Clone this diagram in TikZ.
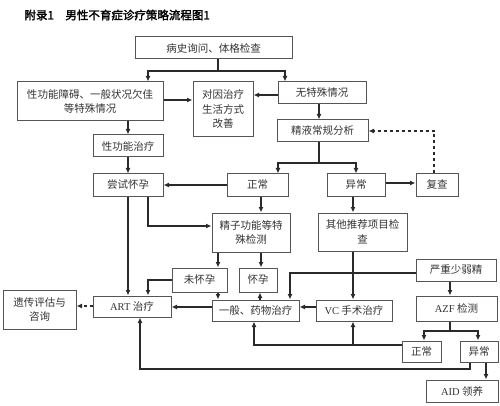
\documentclass[tikz,border=0pt]{standalone}
\usepackage{fontspec}
\setmainfont{Noto Sans CJK SC}[AutoFakeBold=2]
\newfontfamily\latin{Liberation Serif}
\usepackage{xcolor}
\usepackage{tikz}
\usetikzlibrary{positioning,calc,arrows.meta}
\definecolor{edgegray}{HTML}{555555}
\definecolor{linegray}{HTML}{2A2A2A}
\definecolor{txtgray}{HTML}{333333}
\tikzstyle{box}= [rectangle, draw=edgegray, line width=1pt, inner sep=0pt, align=center, text=txtgray, font=\fontsize{10.5}{14.5}\selectfont]
\tikzstyle{arr}= [-{Latex[length=5.5pt,width=5pt]}, draw=linegray, line width=1.1pt]

\begin{document}
\begin{tikzpicture}[x=1pt,y=-1pt]
				\useasboundingbox (0,0) rectangle (500,406);
				\node[anchor=west, font=\fontsize{11.5}{13}\selectfont\bfseries] (title) at (21,15) {附录1\hspace{1em}男性不育症诊疗策略流程图1};

				\node[box, minimum width=157, minimum height=22] (hist) at (213.5,48) {病史询问、体格检查};
				\node[box, minimum width=146, minimum height=39] (sexd) at (90,101.5) {性功能障碍、一般状况欠佳\\等特殊情况};
				\node[box, minimum width=60, minimum height=55] (cause) at (223,109.5) {对因治疗\\生活方式\\改善};
				\node[box, minimum width=88, minimum height=22] (nosp) at (322,93) {无特殊情况};
				\node[box, minimum width=91, minimum height=22] (semen) at (322.5,131) {精液常规分析};
				\node[box, minimum width=70, minimum height=22] (sext) at (128,146) {性功能治疗};
				\node[box, minimum width=70, minimum height=22] (tryp) at (128,185) {尝试怀孕};
				\node[box, minimum width=61, minimum height=22] (norm1) at (257.5,185) {正常};
				\node[box, minimum width=58, minimum height=22] (abn1) at (356,185) {异常};
				\node[box, minimum width=42, minimum height=22] (recheck) at (437,185) {复查};
				\node[box, minimum width=78, minimum height=39] (spermf) at (251,232.5) {精子功能等特\\殊检测};
				\node[box, minimum width=89, minimum height=38] (other) at (362.5,232) {其他推荐项目检\\查};
				\node[box, minimum width=55, minimum height=24] (notp) at (199.5,280) {未怀孕};
				\node[box, minimum width=38, minimum height=24] (preg) at (258,280) {怀孕};
				\node[box, minimum width=80, minimum height=22] (severe) at (456,270) {严重少弱精};
				\node[box, minimum width=78, minimum height=21] (art) at (132,306.5) {{\latin ART} 治疗};
				\node[box, minimum width=73, minimum height=39] (genet) at (39.5,309.5) {遗传评估与\\咨询};
				\node[box, minimum width=87, minimum height=21] (drug) at (255.5,310.5) {一般、药物治疗};
				\node[box, minimum width=76, minimum height=21] (vc) at (354,310.5) {{\latin VC} 手术治疗};
				\node[box, minimum width=81, minimum height=25] (azf) at (456.5,308.5) {{\latin AZF} 检测};
				\node[box, minimum width=39, minimum height=21] (norm2) at (421.5,351.5) {正常};
				\node[box, minimum width=38, minimum height=21] (abn2) at (479,351.5) {异常};
				\node[box, minimum width=72, minimum height=22] (aid) at (462,391) {{\latin AID} 领养};

				% history -> two branches
				\draw[arr] (218,0 |- hist.south) -- (218,71) -| (148,0 |- sexd.north);
				\draw[arr] (218,71) -| (285,0 |- nosp.north);
				\draw[arr] (sexd.east |- 0,100) -- (cause.west |- 0,100);
				\draw[arr] (nosp.west |- 0,95) -- (cause.east |- 0,95);
				\draw[arr] (128,0 |- sexd.south) -- (sext.north);
				\draw[arr] (319,0 |- nosp.south) -- (319,0 |- semen.north);
				\draw[arr] (sext) -- (tryp);

				% semen analysis
				\draw[arr] (319,0 |- semen.south) -- (319,163) -| (278,0 |- norm1.north);
				\draw[arr] (319,163) -| (abn1.north);
				\draw[arr, dashed] (434,0 |- recheck.north) |- (semen.east);
				\draw[arr] (abn1.east |- 0,183) -- (recheck.west |- 0,183);
				\draw[arr] (norm1.west) -- (tryp.east);
				\draw[arr] (148,0 |- tryp.south) |- (spermf.west |- 0,226);
				\draw[arr] (261,0 |- norm1.south) -- (261,0 |- spermf.north);
				\draw[arr] (353,0 |- abn1.south) -- (353,0 |- other.north);
				\draw[arr] (218,0 |- spermf.south) -- (218,0 |- notp.north);
				\draw[arr] (261,0 |- spermf.south) -- (261,0 |- preg.north);

				% treatment
				\draw[arr] (tryp.south) -- (128,0 |- art.north);
				\draw[arr] (notp.west |- 0,280) -| (148,0 |- art.north);
				\draw[arr] (218,0 |- notp.south) -- (218,0 |- drug.north);
				\draw[arr] (260,0 |- drug.north) -- (260,0 |- preg.south);
				\draw[arr] (drug.west |- 0,307) -- (art.east |- 0,307);
				\draw[arr] (353,0 |- other.south) -- (353,0 |- vc.north);
				\draw[arr] (severe.west |- 0,273) -| (290,0 |- drug.north);
				\draw[arr] (vc.west |- 0,307) -- (drug.east |- 0,307);
				\draw[arr, dashed] (art.west |- 0,306) -- (genet.east |- 0,306);

				% AZF
				\draw[arr] (450,0 |- severe.south) -- (450,0 |- azf.north);
				\draw[arr] (450,0 |- azf.south) -- (450,331) -| (424,0 |- norm2.north);
				\draw[arr] (450,331) -| (478,0 |- abn2.north);
				\draw[arr] (norm2.west |- 0,345) -| (254,0 |- drug.south);
				\draw[arr] (353,345) -- (353,0 |- vc.south);
				\draw[arr] (470,0 |- abn2.south) |- (140,369) -- (140,0 |- art.south);
				\draw[arr] (486,0 |- abn2.south) -- (486,0 |- aid.north);
			\end{tikzpicture}
\end{document}
